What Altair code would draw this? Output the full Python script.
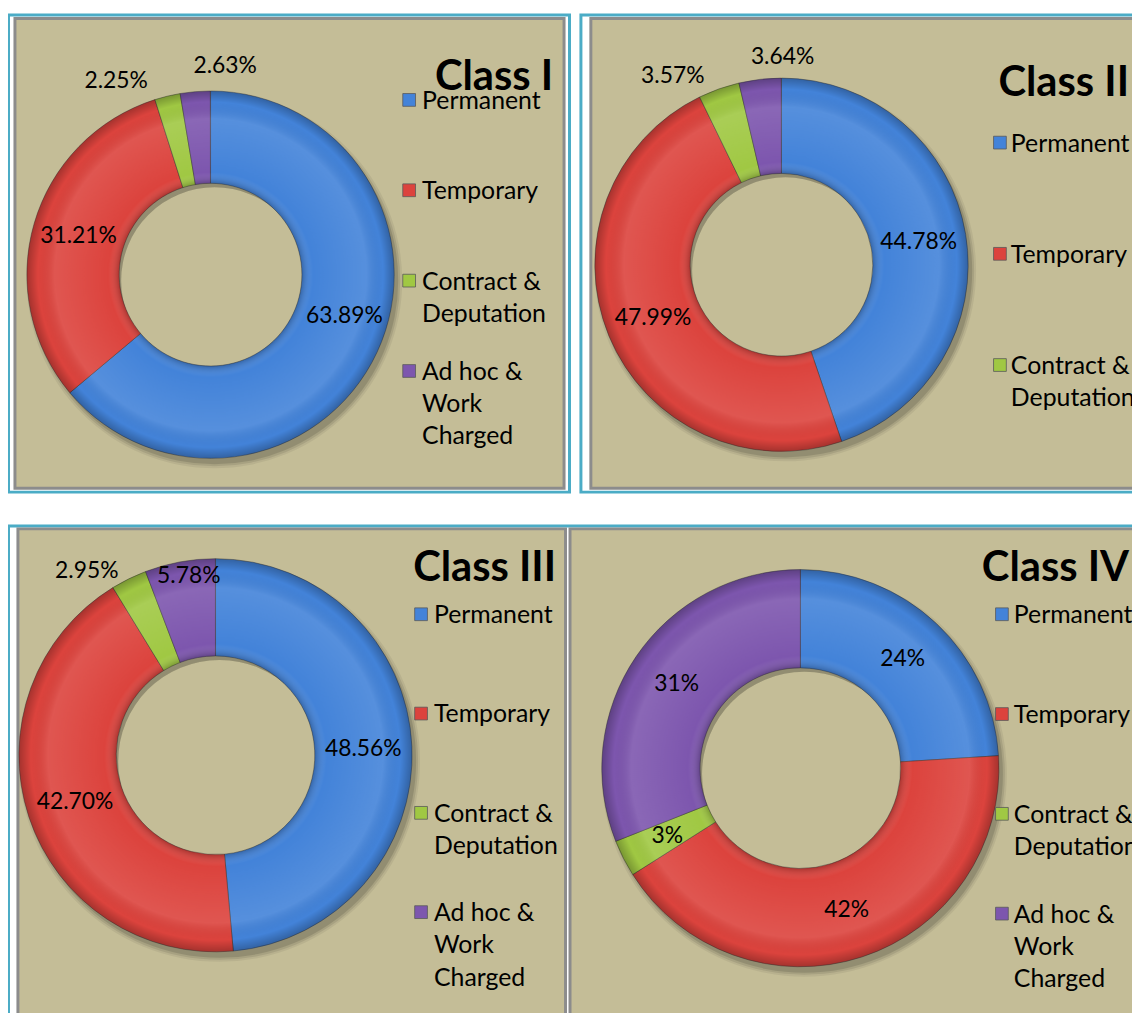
import math
import altair as alt
import pandas as pd

# ---------------- data ----------------
CATEGORIES = ["Permanent", "Temporary", "Contract & Deputation", "Ad hoc & Work Charged"]
LEGEND_TEXT = ["Permanent", "Temporary", "Contract &\nDeputation", "Ad hoc &\nWork\nCharged"]
COLORS = ["#4383d9", "#dc433d", "#a0c843", "#7d56ae"]

CLASS_NAMES = ["Class I", "Class II", "Class III", "Class IV"]
CLASS_I = [63.89, 31.21, 2.25, 2.63]
CLASS_II = [44.78, 47.99, 3.57, 3.64]
CLASS_III = [48.56, 42.70, 2.95, 5.78]
CLASS_IV = [24, 42, 3, 31]
LABELS_I = ["63.89%", "31.21%", "2.25%", "2.63%"]
LABELS_II = ["44.78%", "47.99%", "3.57%", "3.64%"]
LABELS_III = ["48.56%", "42.70%", "2.95%", "5.78%"]
LABELS_IV = ["24%", "42%", "3%", "31%"]

VALUES = dict(zip(CLASS_NAMES, [CLASS_I, CLASS_II, CLASS_III, CLASS_IV]))
LABELS = dict(zip(CLASS_NAMES, [LABELS_I, LABELS_II, LABELS_III, LABELS_IV]))

# ---------------- layout (page pixels) ----------------
O = 8  # page margin
W, H = 1132, 1005
FONT = "Lato"
BEIGE = "#c4bd97"
CYAN = "#4bacc6"
GRAY = "#8c8c8c"

OUTER_BOXES = [(8.5, 11.5, 573.5, 492), (585, 11.5, 1160, 492), (8.5, 526, 1160, 1030)]
INNER_BOXES = [(15, 15, 568, 488), (595, 15, 1160, 488), (18, 529, 569.5, 1030), (574, 529, 1160, 1030)]

LAYOUT = {
    "Class I": dict(cx=212, cy=273, ro=185, ri=92, title=(557, 87), lx=412, ltx=425,
                    ly0=97, lstep=91, nleg=4,
                    place={0: (107, 141), 2: (334, 217), 3: (4, 211)}),
    "Class II": dict(cx=787, cy=263, ro=188, ri=92, title=(1137, 93), lx=1007, ltx=1018,
                     ly0=140, lstep=112, nleg=3, place={2: (330, 219), 3: (0.3, 209)}),
    "Class III": dict(cx=217, cy=757, ro=198, ri=100, title=(560, 582), lx=424, ltx=437,
                      ly0=615, lstep=100, nleg=4, place={2: (325, 226), 3: (351.5, 182)}),
    "Class IV": dict(cx=806, cy=770, ro=200, ri=101, title=(1137, 582), lx=1009, ltx=1021,
                     ly0=615, lstep=100.5, nleg=4, place={}),
}

THETA = alt.Scale(domain=[0, 100], range=[0, 2 * math.pi])
COLOR_SCALE = alt.Scale(domain=CATEGORIES, range=COLORS)
ONE = pd.DataFrame({"k": [0]})
LEG_FS = 25


def box_layer(boxes, **mark):
    df = pd.DataFrame(
        [{"x": b[0] - O, "x2": b[2] - O, "y": b[1] - O, "y2": b[3] - O} for b in boxes]
    )
    return alt.Chart(df).mark_rect(**mark).encode(
        x=alt.X("x:Q", scale=None), x2="x2:Q",
        y=alt.Y("y:Q", scale=None), y2="y2:Q",
    )


def panel(name):
    L = LAYOUT[name]
    vals = VALUES[name]
    labs = LABELS[name]
    cx, cy = L["cx"] - O, L["cy"] - O
    ro, ri = L["ro"], L["ri"]

    starts, ends, acc = [], [], 0.0
    for v in vals:
        starts.append(acc)
        acc += v
        ends.append(acc)
    df = pd.DataFrame({"cat": CATEGORIES, "start": starts, "end": ends})

    layers = []
    # soft drop shadow (bottom-right)
    for k, op in [(4, 0.06), (2, 0.09), (0, 0.12)]:
        layers.append(
            alt.Chart(ONE).mark_arc(theta=0, theta2=2 * math.pi, radius=ro + k, radius2=ri + 2,
                                    fill="black", opacity=op)
            .encode(x=alt.value(cx + 4), y=alt.value(cy + 6))
        )
    layers.append(
        alt.Chart(df).mark_arc(radius=ro, radius2=ri, stroke="#333333", strokeWidth=1, strokeOpacity=0.45)
        .encode(
            theta=alt.Theta("start:Q", scale=THETA),
            theta2="end:Q",
            color=alt.Color("cat:N", scale=COLOR_SCALE, legend=None),
            x=alt.value(cx), y=alt.value(cy),
        )
    )
    f = ri / ro
    gloss = alt.RadialGradient(
        gradient="radial", x1=0.5, y1=0.5, r1=0, x2=0.5, y2=0.5, r2=0.5,
        stops=[
            alt.GradientStop(color="rgba(0,0,0,0.22)", offset=f),
            alt.GradientStop(color="rgba(255,255,255,0.0)", offset=f + 0.06),
            alt.GradientStop(color="rgba(255,255,255,0.10)", offset=(f + 1) / 2 + 0.1),
            alt.GradientStop(color="rgba(0,0,0,0.0)", offset=0.94),
            alt.GradientStop(color="rgba(0,0,0,0.25)", offset=1.0),
        ],
    )
    layers.append(
        alt.Chart(ONE).mark_arc(theta=0, theta2=2 * math.pi, radius=ro, radius2=ri, fill=gloss)
        .encode(x=alt.value(cx), y=alt.value(cy))
    )

    # percentage labels
    rows = []
    for i, lab in enumerate(labs):
        if i in L["place"]:
            deg, rr = L["place"][i]
            t = deg / 3.6
        else:
            t = (starts[i] + ends[i]) / 2
            rr = (ro + ri) / 2
        rows.append({"lab": lab, "t": t, "r": rr})
    ldf = pd.DataFrame(rows)
    layers.append(
        alt.Chart(ldf).mark_text(font=FONT, fontSize=23, color="black", baseline="middle", align="center")
        .encode(
            theta=alt.Theta("t:Q", scale=THETA, stack=None),
            radius=alt.Radius("r:Q", scale=None),
            text="lab:N",
            x=alt.value(cx), y=alt.value(cy),
        )
    )

    # legend
    n = L["nleg"]
    gdf = pd.DataFrame({
        "cat": CATEGORIES[:n],
        "txt": LEGEND_TEXT[:n],
        "sy": [L["ly0"] + i * L["lstep"] - O for i in range(n)],
    })
    gdf["ty"] = gdf["sy"] - round(0.43 * LEG_FS)
    layers.append(
        alt.Chart(gdf).mark_square(size=165, stroke="#5a5a5a", strokeWidth=0.8, opacity=1)
        .encode(
            x=alt.value(L["lx"] - O),
            y=alt.Y("sy:Q", scale=None),
            color=alt.Color("cat:N", scale=COLOR_SCALE, legend=None),
        )
    )
    layers.append(
        alt.Chart(gdf).mark_text(font=FONT, fontSize=LEG_FS, color="black", align="left",
                                 baseline="top", lineBreak="\n", lineHeight=32.5)
        .encode(
            x=alt.value(L["ltx"] - O),
            y=alt.Y("ty:Q", scale=None),
            text="txt:N",
        )
    )
    # title
    tx, ty = L["title"]
    layers.append(
        alt.Chart(ONE).mark_text(text=name, font=FONT, fontWeight="bold", fontSize=42,
                                 color="black", align="right", baseline="alphabetic")
        .encode(x=alt.value(tx - O), y=alt.value(ty - O))
    )
    return layers


layers = [
    box_layer(OUTER_BOXES, fill="white", stroke=CYAN, strokeWidth=3),
    box_layer(INNER_BOXES, fill=BEIGE, stroke=GRAY, strokeWidth=3),
]
for nm in CLASS_NAMES:
    layers.extend(panel(nm))

chart = (
    alt.layer(*layers)
    .properties(width=W, height=H, padding=0, autosize=alt.AutoSizeParams(type="none"),
                background="white")
    .configure_view(strokeWidth=0)
)

chart.save("out.html", embed_options={"renderer": "svg", "actions": False})
